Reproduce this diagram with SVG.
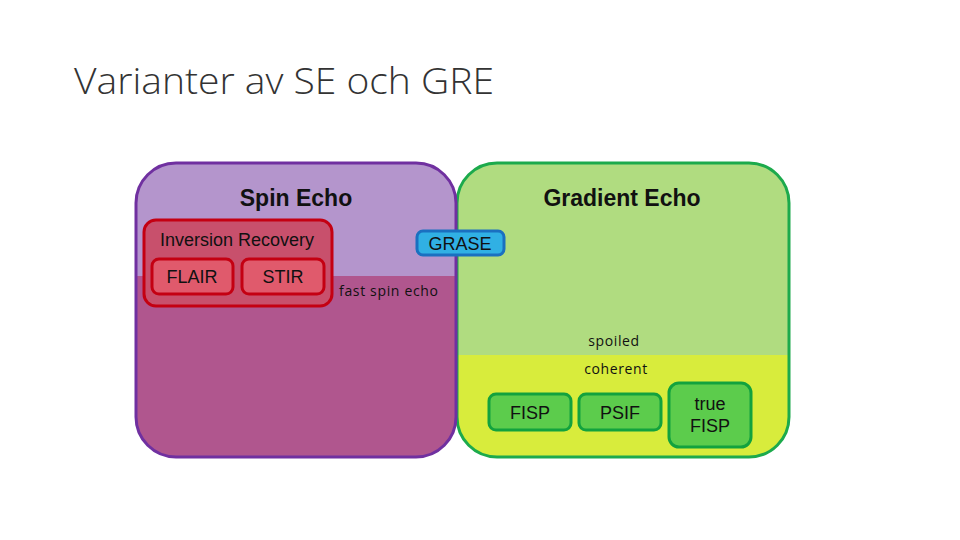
<svg xmlns="http://www.w3.org/2000/svg" width="960" height="540" viewBox="0 0 960 540">
<style>
.lbl{font-family:"Liberation Sans",Arial,sans-serif;fill:#111;text-anchor:middle;font-size:18px}
.big{font-size:23px;font-weight:bold}
.sm{font-family:"Open Sans","Liberation Sans",sans-serif;font-size:14px;fill:#111}
.red{fill:#e05a6c;stroke:#c40012;stroke-width:3}
.grn{fill:#5ccc4c;stroke:#12a23e;stroke-width:3}
</style>
<defs>
<clipPath id="cpSE"><rect x="136" y="163" width="320" height="294" rx="40"/></clipPath>
<clipPath id="cpGE"><rect x="457" y="163" width="332" height="294" rx="40"/></clipPath>
</defs>
<rect width="960" height="540" fill="#fff"/>
<text x="74" y="94" font-family="'Open Sans','Liberation Sans',sans-serif" font-weight="300" font-size="37" fill="#333" textLength="420" lengthAdjust="spacingAndGlyphs">Varianter av SE och GRE</text>

<g id="gradient-echo">
<g clip-path="url(#cpGE)">
<rect x="457" y="163" width="332" height="192" fill="#b0dc80"/>
<rect x="457" y="355" width="332" height="102" fill="#d8ec3c"/>
</g>
<rect x="457" y="163" width="332" height="294" rx="40" fill="none" stroke="#1caa4c" stroke-width="3"/>
<text class="lbl big" x="622" y="206">Gradient Echo</text>
<text class="sm" x="614" y="346" text-anchor="middle" letter-spacing="0.6">spoiled</text>
<text class="sm" x="616" y="374" text-anchor="middle" letter-spacing="0.6">coherent</text>
</g>

<g id="spin-echo">
<g clip-path="url(#cpSE)">
<rect x="136" y="163" width="320" height="113" fill="#b495cc"/>
<rect x="136" y="276" width="320" height="181" fill="#b0568e"/>
</g>
<rect x="136" y="163" width="320" height="294" rx="40" fill="none" stroke="#7030a0" stroke-width="3"/>
<text class="lbl big" x="296" y="206">Spin Echo</text>
<text class="sm" x="339" y="296" font-size="15" textLength="99" lengthAdjust="spacing">fast spin echo</text>
</g>

<g id="inversion-recovery">
<rect x="144" y="220" width="188" height="86" rx="12" fill="#c8506c" stroke="#c40012" stroke-width="3"/>
<text class="lbl" x="237" y="246">Inversion Recovery</text>
</g>
<g id="flair">
<rect class="red" x="152" y="259" width="81" height="35" rx="7"/>
<text class="lbl" x="192" y="283">FLAIR</text>
</g>
<g id="stir">
<rect class="red" x="242" y="259" width="82" height="35" rx="7"/>
<text class="lbl" x="283" y="283">STIR</text>
</g>

<g id="grase">
<rect x="417" y="231" width="87" height="24" rx="6" fill="#30b0e4" stroke="#1a70c0" stroke-width="3"/>
<text class="lbl" x="460" y="250">GRASE</text>
</g>

<g id="fisp">
<rect class="grn" x="489" y="394" width="82" height="36" rx="7"/>
<text class="lbl" x="530" y="419">FISP</text>
</g>
<g id="psif">
<rect class="grn" x="579" y="394" width="82" height="36" rx="7"/>
<text class="lbl" x="620" y="419">PSIF</text>
</g>
<g id="true-fisp">
<rect class="grn" x="669" y="383" width="82" height="64" rx="10"/>
<text class="lbl" x="710" y="410">true</text>
<text class="lbl" x="710" y="432">FISP</text>
</g>
<g id="connectors"/>
</svg>
